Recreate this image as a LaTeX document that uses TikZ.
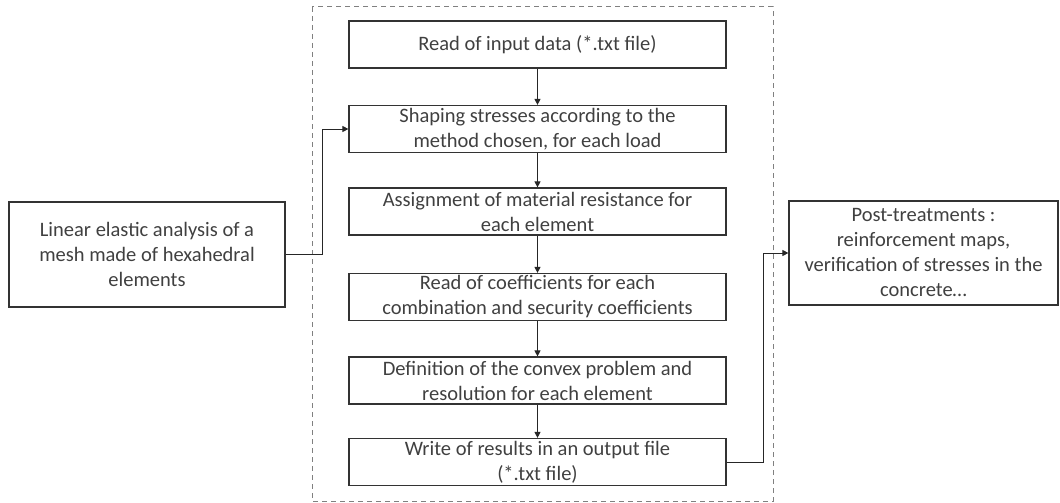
\documentclass[tikz,border=0pt]{standalone}
\usepackage{fontspec}
\setmainfont{Carlito}
\usetikzlibrary{arrows.meta}

\tikzset{
  box/.style={draw=black!80,line width=1.2pt,text=black!75,align=center,
    minimum width=377pt,minimum height=47pt,inner sep=0pt,
    font=\fontsize{20.5}{25}\selectfont},
  sidebox/.style={box,minimum height=105pt},
  link/.style={draw=black!85,line width=1pt,-{Triangle[length=6pt,width=6pt]}}
}

\begin{document}
\begin{tikzpicture}[x=1pt,y=-1pt]
\useasboundingbox (0,0) rectangle (1060,503);
%\draw[step=50pt,gray,very thin] (0,0) grid (1060,503);
\draw[gray,dashed,line width=1pt,dash pattern=on 5pt off 4pt] (312,7) rectangle (773,501);
\node[box] (read) at (537.5,44.5) {Read of input data (*.txt file)};
\node[box] (shape) at (537.5,129) {Shaping stresses according to the\\method chosen, for each load};
\node[box] (assign) at (537.5,211.5) {Assignment of material resistance for\\each element};
\node[box] (coef) at (537.5,297) {Read of coefficients for each\\combination and security coefficients};
\node[box] (convex) at (537.5,380.5) {Definition of the convex problem and\\resolution for each element};
\node[box] (write) at (537.5,462) {Write of results in an output file\\(*.txt file)};
\node[sidebox,minimum width=276pt] (linear) at (147,254.5) {Linear elastic analysis of a\\mesh made of hexahedral\\elements};
\node[sidebox,minimum width=269pt,minimum height=104pt] (post) at (923.5,253) {Post-treatments :\\reinforcement maps,\\verification of stresses in the\\concrete…};
\draw[link] (read) -- (shape);
\draw[link] (shape) -- (assign);
\draw[link] (assign) -- (coef);
\draw[link] (coef) -- (convex);
\draw[link] (convex) -- (write);
\draw[link] (linear.east) -- ++(37,0) |- (shape.west);
\draw[link] (write.east) -- ++(37,0) |- (post.west);
\end{tikzpicture}
\end{document}
